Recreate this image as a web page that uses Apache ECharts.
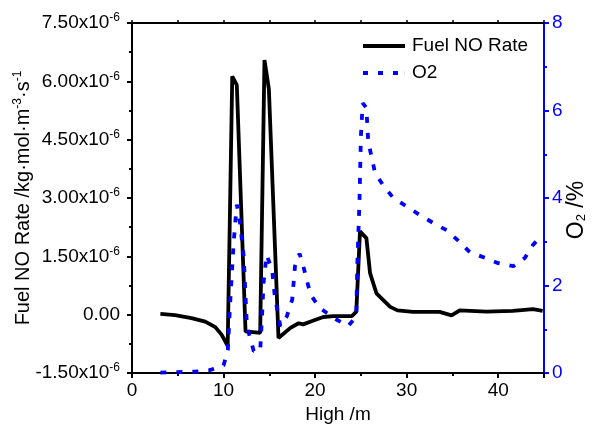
<!DOCTYPE html>
<html><head><meta charset="utf-8">
<script src="https://cdn.jsdelivr.net/npm/echarts@6/dist/echarts.min.js"></script>
<style>html,body{margin:0;padding:0;background:#fff}#c{width:594px;height:430px}</style>
</head><body><div id="c"></div>
<script>
// Fuel NO Rate (units of 1e-6 kg·mol·m^-3·s^-1) vs height
const noHigh = [3.1,4.7,6.5,8.0,9.1,9.8,10.45,10.95,11.45,12.4,12.6,14.0,14.47,14.95,16.0,17.3,18.2,18.7,19.6,20.9,22.0,24.0,24.5,24.9,25.6,26.0,26.7,28.2,29.0,30.7,33.6,34.9,35.8,38.7,41.6,43.8,44.85];
const noRate = [0.02,-0.01,-0.09,-0.18,-0.32,-0.52,-0.8,6.13,5.9,-0.43,-0.47,-0.47,6.55,5.8,-0.6,-0.34,-0.22,-0.25,-0.17,-0.06,-0.04,-0.04,0.08,2.14,1.97,1.07,0.55,0.2,0.11,0.07,0.07,-0.02,0.11,0.08,0.1,0.14,0.1];
// O2 (%) vs height
const o2High = [3.1,5.0,6.8,8.4,10.0,10.47,10.7,11.1,11.3,11.45,11.8,12.2,12.55,13.3,14.0,14.2,14.37,14.7,15.3,15.6,16.2,16.9,17.5,17.8,18.3,18.7,19.5,20.5,22.0,23.6,24.5,24.6,24.85,25.0,25.2,25.6,25.8,26.2,26.55,27.5,28.55,30.0,31.5,32.9,34.4,35.6,36.9,38.6,40.0,41.65,42.9,43.8,44.85];
const o2Val = [0.01,0.02,0.03,0.06,0.17,0.53,1.52,2.97,3.5,3.85,3.43,2.67,1.07,0.5,0.5,1.29,2.06,2.7,2.36,1.75,1.07,1.29,1.68,2.44,2.73,2.45,1.79,1.49,1.26,1.07,1.29,2.44,3.96,5.41,6.17,6.06,5.29,4.91,4.57,4.27,4.0,3.81,3.6,3.43,3.26,3.03,2.76,2.63,2.51,2.44,2.63,2.93,3.16];
const xTicks = [0,10,20,30,40];
const leftTicks = [-1.5,0,1.5,3,4.5,6,7.5];
const rightTicks = [0,2,4,6,8];
const seriesNames = ['Fuel NO Rate','O2'];

const FONT = '"Liberation Sans", Arial, sans-serif';
const chart = echarts.init(document.getElementById('c'), null, {renderer:'canvas'});
const noData = noHigh.map((h,i)=>[h,noRate[i]]);
const o2Data = o2High.map((h,i)=>[h,o2Val[i]]);

chart.setOption({
  animation:false,
  textStyle:{fontFamily:FONT},
  grid:{left:132, right:50, top:23, bottom:57, containLabel:false, outerBoundsMode:'none'},
  legend:{
    orient:'vertical', left:363, top:35, padding:0, itemGap:5, itemWidth:42, itemHeight:4,
    textStyle:{fontSize:19, lineHeight:22, color:'#000', fontFamily:FONT, padding:[0,0,0,2]},
    data:[
      {name:seriesNames[0], icon:'path://M0,0H42V4H0Z', itemStyle:{color:'#000'}},
      {name:seriesNames[1], icon:'path://M0,0H5V4H0Z M15,0H20V4H15Z M30,0H35V4H30Z M41.9,0H42V4H41.9Z', itemStyle:{color:'#0000ff'}}
    ]
  },
  xAxis:[{
    type:'value', min:xTicks[0], max:45, interval:10,
    name:'High /m', nameLocation:'middle', nameGap:32, nameMoveOverlap:false,
    nameTextStyle:{fontSize:19, color:'#000', fontFamily:FONT},
    axisLine:{show:true, onZero:false, lineStyle:{color:'#000', width:2}},
    axisTick:{show:true, inside:false, length:5, lineStyle:{color:'#000', width:2}},
    minorTick:{show:true, splitNumber:2, length:3, lineStyle:{color:'#000', width:2}},
    axisLabel:{fontSize:19, color:'#000', margin:8, fontFamily:FONT, showMaxLabel:false},
    splitLine:{show:false}
  },{
    type:'value', position:'top', min:0, max:45, interval:5,
    axisLine:{show:true, onZero:false, lineStyle:{color:'#000', width:2}},
    axisTick:{show:true, inside:false, length:3, lineStyle:{color:'#000', width:1.5}},
    axisLabel:{show:false}, splitLine:{show:false}
  }],
  yAxis:[{
    type:'value', min:leftTicks[0], max:7.5, interval:1.5, position:'left',
    name:'Fuel NO Rate /kg·mol·m{s|-3}·s{s|-1}', nameLocation:'middle', nameGap:98, nameRotate:90, nameMoveOverlap:false,
    nameTextStyle:{fontSize:20, color:'#000', fontFamily:FONT,
      rich:{s:{fontSize:12, color:'#000', fontFamily:FONT, verticalAlign:'top', padding:[0,0,10,0]}}},
    axisLine:{show:true, onZero:false, lineStyle:{color:'#000', width:2}},
    axisTick:{show:true, inside:false, length:5, lineStyle:{color:'#000', width:2}},
    minorTick:{show:true, splitNumber:2, length:3, lineStyle:{color:'#000', width:2}},
    axisLabel:{fontSize:19, color:'#000', margin:12, fontFamily:FONT,
      formatter:function(v){ if(Math.abs(v)<1e-9) return '0.00'; return '{a|'+v.toFixed(2)+'x10}{s|-6}'; },
      rich:{a:{fontSize:19, color:'#000', fontFamily:FONT}, s:{fontSize:12, color:'#000', fontFamily:FONT, verticalAlign:'top', padding:[0,0,10,0]}}},
    splitLine:{show:false}
  },{
    type:'value', min:rightTicks[0], max:8, interval:2, position:'right',
    name:'O{s|2} /%', nameLocation:'middle', nameGap:21, nameRotate:90, nameMoveOverlap:false,
    nameTextStyle:{fontSize:23, color:'#000', fontFamily:FONT, padding:[0,24,0,0],
      rich:{s:{fontSize:13, color:'#000', fontFamily:FONT, verticalAlign:'bottom', padding:[10,0,0,0]}}},
    axisLine:{show:true, onZero:false, lineStyle:{color:'#0000ff', width:2}},
    axisTick:{show:true, inside:false, length:5, lineStyle:{color:'#0000ff', width:2}},
    minorTick:{show:true, splitNumber:2, length:3, lineStyle:{color:'#0000ff', width:2}},
    axisLabel:{fontSize:19, color:'#0000ff', margin:8, fontFamily:FONT},
    splitLine:{show:false}
  }],
  series:[{
    name:seriesNames[0], type:'line', xAxisIndex:0, yAxisIndex:0, data:noData,
    showSymbol:false, symbol:'none', smooth:false,
    lineStyle:{color:'#000', width:3.8}, itemStyle:{color:'#000'}
  },{
    name:seriesNames[1], type:'line', xAxisIndex:0, yAxisIndex:1, data:o2Data,
    showSymbol:false, symbol:'none', smooth:false,
    lineStyle:{color:'#0000ff', width:3.8, type:[6,10]}, itemStyle:{color:'#0000ff'}
  }]
});
</script></body></html>
